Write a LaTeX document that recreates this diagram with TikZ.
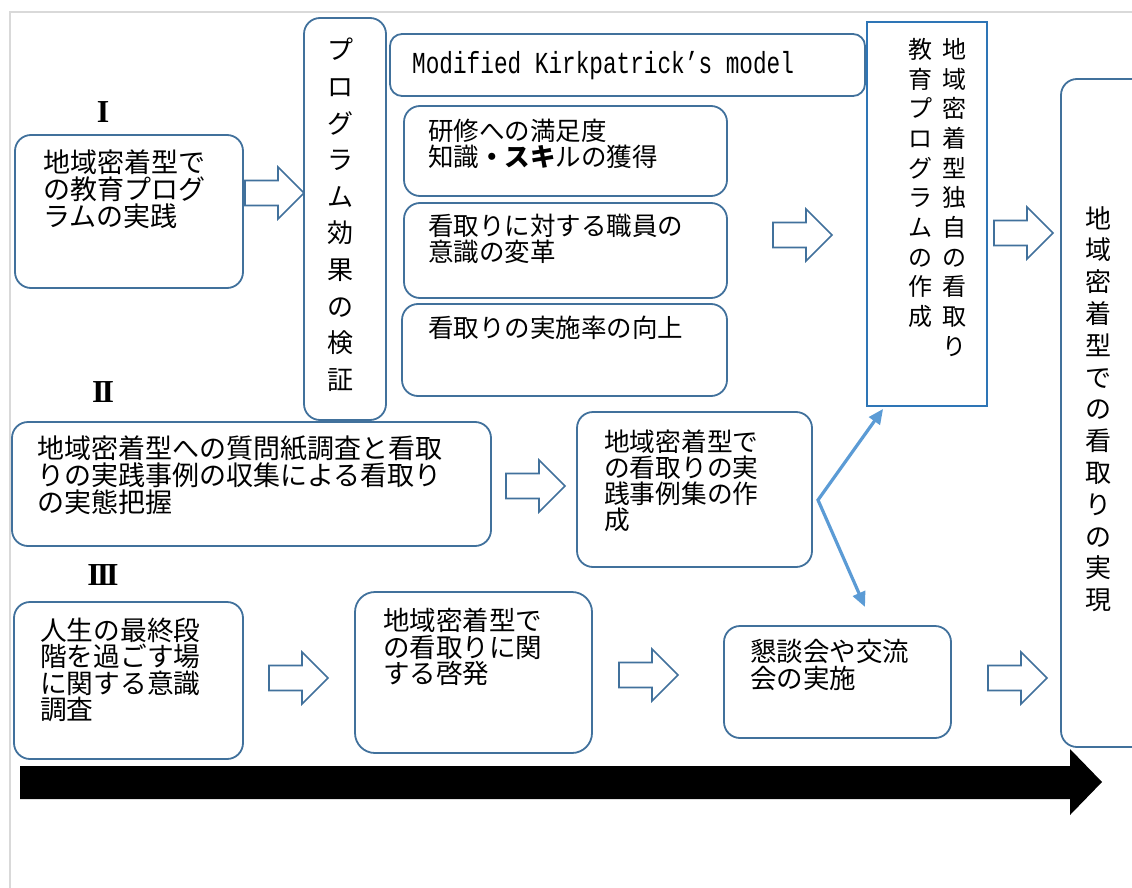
\documentclass[tikz,border=0pt]{standalone}
\usepackage{fontspec}
\newfontfamily\jp{Noto Sans CJK JP}
\newfontfamily\kmono[FakeStretch=0.745]{Liberation Mono}
\newfontfamily\rmn{Liberation Serif}
\usetikzlibrary{fit,arrows.meta,calc}
\definecolor{boxblue}{HTML}{41719C}
\definecolor{sharpblue}{HTML}{2E75B6}
\definecolor{connblue}{HTML}{5B9BD5}
\definecolor{framegray}{HTML}{D9D9D9}
\begin{document}
\begin{tikzpicture}[x=1pt,y=-1pt,
  rbox/.style={draw=boxblue, line width=1.8pt, rounded corners=16pt, fill=white, inner sep=0pt},
  sbox/.style={draw=sharpblue, line width=1.8pt, fill=white, inner sep=0pt},
  txt/.style={anchor=north west, inner sep=0pt, align=left, font=\jp\fontsize{27}{27}\selectfont},
  vtxt/.style={anchor=north, inner sep=0pt, align=center},
  numeral/.style={font=\rmn\bfseries\fontsize{32}{32}\selectfont, inner sep=0pt},
  conn/.style={draw=connblue, line width=3.2pt, {Triangle[length=15pt,width=13pt]}-{Triangle[length=15pt,width=13pt]}},
  blk/.pic={\draw[boxblue, line width=1.6pt, fill=white, line join=miter]
     (0,-12.5) -- (33,-12.5) -- (33,-26) -- (59,0) -- (33,26) -- (33,12.5) -- (0,12.5) -- cycle;}
]
\useasboundingbox (0,0) rectangle (1132,888);
\clip (0,0) rectangle (1132,888);

% frame
\draw[framegray, line width=1.2pt] (10,888) -- (10,12) -- (1132,12);

% row I
\node[numeral] (n1) at (103,112) {I};
\node[rbox, fit={(15,135)(243,288)}] (b1) {};
\node[txt] (t1) at (43,150) {地域密着型で\\の教育プログ\\ラムの実践};
\pic at (245,193) {blk};

\node[rbox, fit={(304,18)(386,420)}] (vb) {};
\node[vtxt, font=\jp\fontsize{26}{36.6}\selectfont] (vt) at (340,38) {プ\\ロ\\グ\\ラ\\ム\\効\\果\\の\\検\\証};

\node[rbox, rounded corners=12pt, fit={(390,34)(865,96)}] (kb) {};
\node[anchor=base west, inner sep=0pt, font=\kmono\fontsize{30.5}{30.5}\selectfont] (kt) at (412,73.5) {Modified Kirkpatrick’s model};

\node[rbox, fit={(404,106)(727,196)}] (s1) {};
\node[txt, font=\jp\fontsize{25.5}{26}\selectfont] (st1) at (428,118.5) {研修への満足度\\知識{\bfseries ・スキ}ルの獲得};
\node[rbox, fit={(404,203)(727,298)}] (s2) {};
\node[txt, font=\jp\fontsize{25.5}{26}\selectfont] (st2) at (428,214) {看取りに対する職員の\\意識の変革};
\node[rbox, fit={(402,304)(727,396)}] (s3) {};
\node[txt, font=\jp\fontsize{25.5}{26}\selectfont] (st3) at (428,316) {看取りの実施率の向上};

\pic at (773,235) {blk};

\node[sbox, fit={(867,22)(987,406)}] (sb) {};
\node[vtxt, font=\jp\fontsize{24}{29.7}\selectfont] (sbr) at (954,38) {地\\域\\密\\着\\型\\独\\自\\の\\看\\取\\り};
\node[vtxt, font=\jp\fontsize{24}{29.7}\selectfont] (sbl) at (920,38) {教\\育\\プ\\ロ\\グ\\ラ\\ム\\の\\作\\成};

\pic at (994,233) {blk};

\node[rbox, fit={(1061,79)(1150,747)}] (rb) {};
\node[vtxt, font=\jp\fontsize{26}{31.8}\selectfont] (rt) at (1098,206) {地\\域\\密\\着\\型\\で\\の\\看\\取\\り\\の\\実\\現};

% row II
\node[numeral] (n2) at (103,392) {I\kern-3pt I};
\node[rbox, fit={(12,422)(491,546)}] (b2) {};
\node[txt] (t2) at (37,436) {地域密着型への質問紙調査と看取\\りの実践事例の収集による看取り\\の実態把握};
\pic at (506,486) {blk};
\node[rbox, fit={(577,412)(812,567)}] (b5) {};
\node[txt, font=\jp\fontsize{25.7}{26}\selectfont] (t5) at (604,430) {地域密着型で\\の看取りの実\\践事例集の作\\成};

\coordinate (fork) at (818,500);
\coordinate (upT) at ($(sb.south west)+(17,2)$);
\coordinate (dnT) at (865,607);
\draw[conn] (upT) -- (fork) -- (dnT);

% row III
\node[numeral] (n3) at (103,575) {I\kern-3pt I\kern-3pt I};
\node[rbox, fit={(14,602)(243,759)}] (c1) {};
\node[txt, font=\jp\fontsize{26.7}{26.3}\selectfont] (tc1) at (40,618) {人生の最終段\\階を過ごす場\\に関する意識\\調査};
\pic at (269,678) {blk};
\node[rbox, rounded corners=20pt, fit={(355,592)(592,753)}] (c2) {};
\node[txt, font=\jp\fontsize{26.5}{26.5}\selectfont] (tc2) at (383,608) {地域密着型で\\の看取りに関\\する啓発};
\pic at (619,675) {blk};
\node[rbox, fit={(724,626)(951,738)}] (c3) {};
\node[txt, font=\jp\fontsize{26.5}{27}\selectfont] (tc3) at (750,639) {懇談会や交流\\会の実施};
\pic at (988,678) {blk};

% time arrow
\fill[black] (20,766) -- (1070,766) -- (1070,749) -- (1102,782) -- (1070,815) -- (1070,799) -- (20,799) -- cycle;
\end{tikzpicture}
\end{document}
